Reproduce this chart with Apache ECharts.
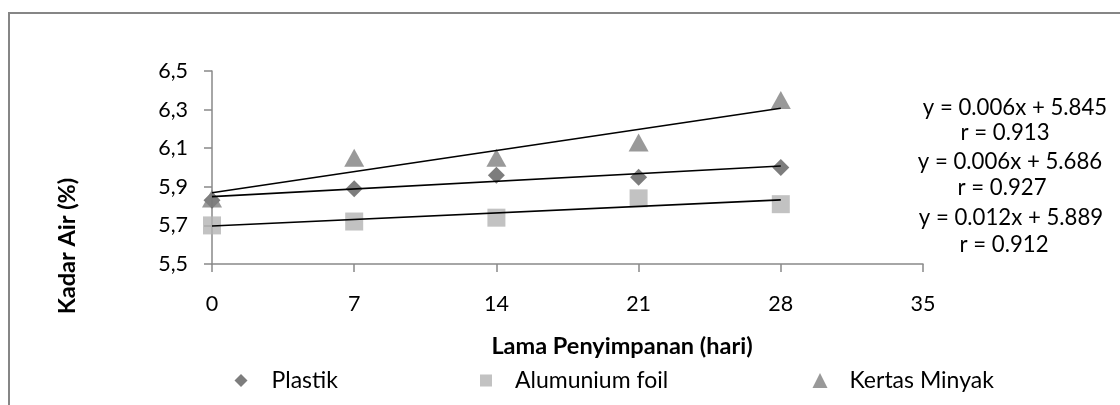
<!DOCTYPE html>
<html>
<head>
<meta charset="utf-8">
<script src="https://cdn.jsdelivr.net/npm/echarts@6/dist/echarts.min.js"></script>
<style>
html,body{margin:0;padding:0;background:#fff;}
#chart{width:1120px;height:405px;}
</style>
</head>
<body>
<div id="chart"></div>
<script>
// ---- data ----
const days = [0, 7, 14, 21, 28];
const plastik = [5.83, 5.89, 5.96, 5.95, 6.00];
const alumunium = [5.70, 5.72, 5.74, 5.84, 5.81];
const kertas = [5.84, 6.05, 6.05, 6.13, 6.35];
const trendX = [0, 28];
const plastikTrend = [5.849, 6.008];
const alumuniumTrend = [5.697, 5.832];
const kertasTrend = [5.869, 6.307];
const yTickLabels = ['5,5', '5,7', '5,9', '6,1', '6,3', '6,5'];
const xTicks = [0, 7, 14, 21, 28, 35];
const seriesNames = ['Plastik', 'Alumunium foil', 'Kertas Minyak'];
const equations = ['y = 0.006x + 5.845', 'r = 0.913', 'y = 0.006x + 5.686', 'r = 0.927', 'y = 0.012x + 5.889', 'r = 0.912'];
const xTitle = 'Lama Penyimpanan (hari)';
const yTitle = 'Kadar Air (%)';

const FONT = 'Lato';
const FS_TICK = 21.5;
const FS_EQ = 22.2;
const FS_LEG = 23;
const FS_TITLE = 23.5;
const axisGray = '#898989';

const pairs = (xs, ys) => xs.map((x, i) => [x, ys[i]]);

const chart = echarts.init(document.getElementById('chart'), null, {renderer: 'canvas'});

const eqPos = [[1015, 108], [1005, 133], [1010, 162], [1002, 188], [1011, 218], [1004, 245]];
const LEG_TOP = 364;

const option = {
  backgroundColor: '#ffffff',
  animation: false,
  textStyle: {fontFamily: FONT},
  grid: {left: 212, right: 197, top: 71, bottom: 141, containLabel: false},
  xAxis: {
    type: 'value', min: xTicks[0], max: xTicks[xTicks.length - 1], interval: 7,
    axisLine: {show: true, onZero: false, lineStyle: {color: axisGray, width: 1.5}},
    axisTick: {show: true, inside: false, length: 8, lineStyle: {color: axisGray, width: 1.5}},
    axisLabel: {margin: 29, color: '#000', fontFamily: FONT, fontSize: FS_TICK},
    splitLine: {show: false}
  },
  yAxis: [
    {type: 'value', min: 5.5, max: 6.5, show: false, splitLine: {show: false}},
    {
      type: 'value', min: 0, max: yTickLabels.length - 1, interval: 1, position: 'left',
      axisLine: {show: true, onZero: false, lineStyle: {color: axisGray, width: 1.5}},
      axisTick: {show: true, inside: false, length: 8, lineStyle: {color: axisGray, width: 1.5}},
      axisLabel: {margin: 24, color: '#000', fontFamily: FONT, fontSize: FS_TICK,
        formatter: v => yTickLabels[Math.round(v)] || ''},
      splitLine: {show: false}
    }
  ],
  legend: [
    {data: [seriesNames[0]], left: 229.5, top: LEG_TOP, itemWidth: 13, itemHeight: 13,
     textStyle: {fontFamily: FONT, fontSize: FS_LEG, color: '#000', padding: [0, 0, 0, 19]}},
    {data: [seriesNames[1]], left: 475, top: LEG_TOP, itemWidth: 12, itemHeight: 12,
     textStyle: {fontFamily: FONT, fontSize: FS_LEG, color: '#000', padding: [0, 0, 0, 18]}},
    {data: [seriesNames[2]], left: 807.5, top: LEG_TOP, itemWidth: 15, itemHeight: 15,
     textStyle: {fontFamily: FONT, fontSize: FS_LEG, color: '#000', padding: [0, 0, 0, 17]}}
  ],
  series: [
    {name: seriesNames[0], type: 'scatter', yAxisIndex: 0, symbol: 'diamond', symbolSize: 17,
     itemStyle: {color: '#5c5c5c'}, data: pairs(days, plastik), z: 2},
    {name: seriesNames[1], type: 'scatter', yAxisIndex: 0, symbol: 'rect', symbolSize: 18,
     itemStyle: {color: '#b3b3b3'}, data: pairs(days, alumunium), z: 2},
    {name: seriesNames[2], type: 'scatter', yAxisIndex: 0, symbol: 'triangle', symbolSize: [20, 18],
     itemStyle: {color: '#808080'}, data: pairs(days, kertas), z: 2},
    {name: 'trend-plastik', type: 'line', yAxisIndex: 0, symbol: 'none', silent: true, z: 3,
     lineStyle: {color: '#000', width: 1.6}, data: pairs(trendX, plastikTrend)},
    {name: 'trend-alumunium', type: 'line', yAxisIndex: 0, symbol: 'none', silent: true, z: 3,
     lineStyle: {color: '#000', width: 1.6}, data: pairs(trendX, alumuniumTrend)},
    {name: 'trend-kertas', type: 'line', yAxisIndex: 0, symbol: 'none', silent: true, z: 3,
     lineStyle: {color: '#000', width: 1.6}, data: pairs(trendX, kertasTrend)}
  ],
  graphic: [
    {type: 'rect', shape: {x: 9, y: 13, width: 1300, height: 600}, silent: true,
     style: {fill: 'none', stroke: '#868686', lineWidth: 2}, z: 0},
    {type: 'text', x: 67.5, y: 246, rotation: Math.PI / 2, silent: true,
     style: {text: yTitle, font: 'bold ' + FS_TITLE + 'px ' + FONT, fill: '#000', align: 'center', verticalAlign: 'middle'}},
    {type: 'text', x: 622, y: 346, silent: true,
     style: {text: xTitle, font: 'bold ' + FS_TITLE + 'px ' + FONT, fill: '#000', align: 'center', verticalAlign: 'middle'}}
  ].concat(equations.map((t, i) => ({
    type: 'text', x: eqPos[i][0], y: eqPos[i][1], silent: true,
    style: {text: t, font: FS_EQ + 'px ' + FONT, fill: '#000', align: 'center', verticalAlign: 'middle'}
  })))
};
chart.setOption(option);
</script>
</body>
</html>
